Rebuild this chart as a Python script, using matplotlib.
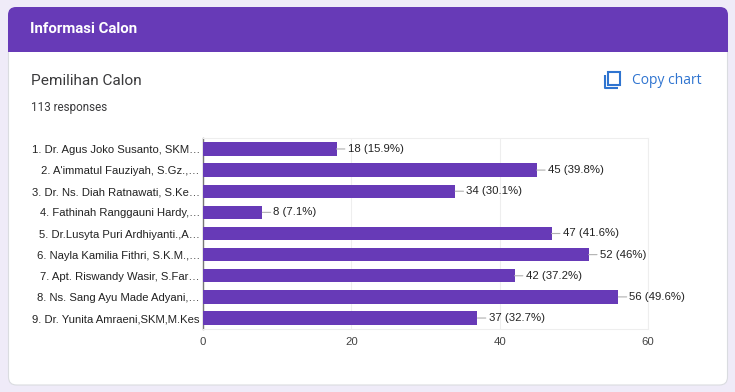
import matplotlib
matplotlib.use('Agg')
import matplotlib.pyplot as plt
from matplotlib.patches import FancyBboxPatch, Rectangle

plt.rcParams['font.family'] = ['Liberation Sans', 'DejaVu Sans']

W, H = 735, 392

names = ['1. Dr. Agus Joko Susanto, SKM…', "2. A'immatul Fauziyah, S.Gz.,…",
         '3. Dr. Ns. Diah Ratnawati, S.Ke…', '4. Fathinah Ranggauni Hardy,…',
         '5. Dr.Lusyta Puri Ardhiyanti.,A…', '6. Nayla Kamilia Fithri, S.K.M.,…',
         '7. Apt. Riswandy Wasir, S.Far…', '8. Ns. Sang Ayu Made Adyani,…',
         '9. Dr. Yunita Amraeni,SKM,M.Kes']
votes = [18, 45, 34, 8, 47, 52, 42, 56, 37]
pct = ['15.9%', '39.8%', '30.1%', '7.1%', '41.6%', '46%', '37.2%', '49.6%', '32.7%']
xticks = [0, 20, 40, 60]

purple = '#673ab7'
txt = '#222222'

fig = plt.figure(figsize=(W / 100, H / 100), dpi=100, facecolor='#efebf8')

# page card, drawn in pixel coords
bg = fig.add_axes([0, 0, 1, 1])
bg.set_xlim(0, W)
bg.set_ylim(H, 0)
bg.axis('off')
bg.add_patch(FancyBboxPatch((8.5, 12), 719, 373, boxstyle='round,pad=0,rounding_size=8',
                            fc='white', ec='#dadce0', lw=0.8))
bg.add_patch(FancyBboxPatch((8, 7), 720, 30, boxstyle='round,pad=0,rounding_size=8',
                            fc=purple, ec='none'))
bg.add_patch(Rectangle((8, 20), 720, 32, fc=purple, ec='none'))
bg.text(30, 29, 'Informasi Calon', color='white', fontsize=10.8, fontweight='bold',
        family='Roboto', va='center')
bg.text(31, 81, 'Pemilihan Calon', color='#3a3a3c', fontsize=11.1, family='Roboto', va='center')
bg.text(31, 107, '113 responses', color='#3a3a3c', fontsize=8.4, family='Roboto', va='center')
bg.text(632, 80, 'Copy chart', color='#2f74d0', fontsize=10, family='Open Sans', va='center')

# copy icon
blue = '#2f74d0'
bg.add_patch(Rectangle((608.5, 71.5), 11.5, 13.5, fc='none', ec=blue, lw=1.5))
bg.plot([605, 605, 618], [75, 88, 88], color=blue, lw=1.5, solid_capstyle='butt')

# chart
x0, x1, y0, y1 = 203, 648, 138.4, 328.6
ax = fig.add_axes([x0 / W, 1 - y1 / H, (x1 - x0) / W, (y1 - y0) / H])
pos = list(range(len(names)))
ax.barh(pos, votes, height=0.63, color=purple, zorder=3)
ax.set_xlim(0, 60)
ax.set_ylim(len(names) - 0.5, -0.5)
ax.set_yticks(pos)
ax.set_yticklabels(names, fontsize=8.1, color=txt)
ax.set_xticks(xticks)
ax.set_xticklabels(xticks, fontsize=8.2, color='#444444')
ax.tick_params(length=0)
ax.tick_params(axis='y', pad=2.2)
ax.tick_params(axis='x', pad=6)
ax.grid(axis='x', color='#eeeeee', lw=0.8, zorder=0)
ax.set_axisbelow(True)
for s in ['top', 'right', 'bottom']:
    ax.spines[s].set_color('#eeeeee')
    ax.spines[s].set_linewidth(0.8)
ax.spines['left'].set_color('#777777')
ax.spines['left'].set_linewidth(1)

for p, v, t in zip(pos, votes, pct):
    ax.annotate(f'{v} ({t})', xy=(v, p), xytext=(8, 0), textcoords='offset points',
                fontsize=8.2, color=txt, va='center', ha='left',
                arrowprops=dict(arrowstyle='-', color='#b0b0b0', lw=0.8, shrinkA=0, shrinkB=0),
                zorder=4, annotation_clip=False)

fig.savefig('out.png', dpi=100)
